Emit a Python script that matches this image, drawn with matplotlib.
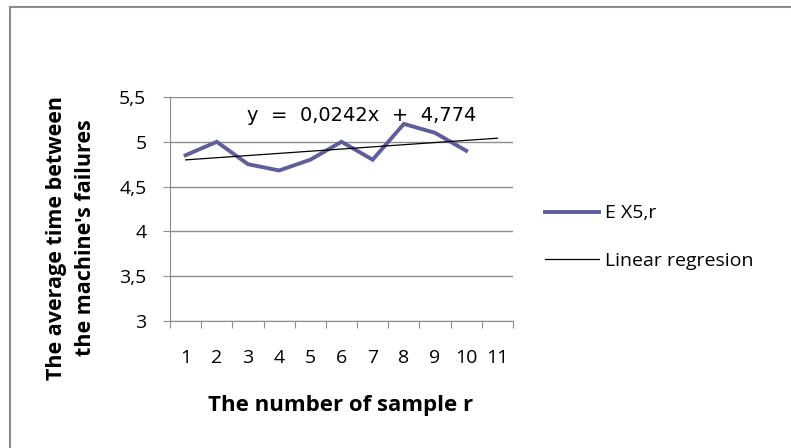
import matplotlib
matplotlib.use("Agg")
import matplotlib.pyplot as plt
from matplotlib.lines import Line2D
from matplotlib.ticker import FixedLocator, FuncFormatter
import numpy as np

# Sample numbers and average time between failures per sample
samples = [1, 2, 3, 4, 5, 6, 7, 8, 9, 10]
avg_time = [4.85, 5.0, 4.75, 4.68, 4.80, 5.0, 4.80, 5.20, 5.10, 4.90]
category_labels = ["1", "2", "3", "4", "5", "6", "7", "8", "9", "10", "11"]
y_ticks = [3.0, 3.5, 4.0, 4.5, 5.0, 5.5]

# Linear trend: y = slope * x + intercept, extended one period ahead
slope = 0.0242
intercept = 4.774
trend_x = [1, 11]

plt.rcParams["font.family"] = ["Open Sans", "DejaVu Sans"]

fig = plt.figure(figsize=(7.91, 4.48), dpi=100)
ax = fig.add_axes([170 / 791, 1 - 321 / 448, (513 - 170) / 791, (321 - 97) / 448])

grid_col = "#8c8c8c"
ax.set_ylim(3.0, 5.5)
ax.set_xlim(0.5, 11.5)
ax.yaxis.set_major_locator(FixedLocator(y_ticks))
ax.yaxis.set_major_formatter(FuncFormatter(lambda v, p: f"{v:g}".replace(".", ",")))
ax.grid(axis="y", color=grid_col, linewidth=1.0)
ax.set_axisbelow(True)

# Category axis: tick marks between categories, labels centred on categories
ax.xaxis.set_major_locator(FixedLocator(np.arange(0.5, 12.0, 1.0)))
ax.xaxis.set_major_formatter(FuncFormatter(lambda v, p: ""))
ax.xaxis.set_minor_locator(FixedLocator(range(1, len(category_labels) + 1)))
ax.set_xticklabels(category_labels, minor=True)
ax.tick_params(axis="x", which="major", direction="out", length=5, color=grid_col)
ax.tick_params(axis="x", which="minor", length=0, pad=20, labelsize=14)
ax.tick_params(axis="y", direction="out", length=5, color=grid_col, labelsize=14, pad=12)

for side in ["top", "right"]:
    ax.spines[side].set_visible(False)
ax.spines["left"].set_color(grid_col)
ax.spines["bottom"].set_color(grid_col)

line_data, = ax.plot(samples, avg_time, color="#5e5e9c", linewidth=2.8,
                     solid_joinstyle="miter", label="E X5,r")
tx = np.array(trend_x, dtype=float)
line_trend, = ax.plot(tx, slope * tx + intercept, color="black", linewidth=0.9,
                      label="Linear regresion")

eq = f"y  =  {slope:.4f}x  +  {intercept:.3f}".replace(".", ",")
ax.text(247 / 791, 1 - 115 / 448, eq, transform=fig.transFigure,
        fontsize=14, family="DejaVu Sans", va="center", ha="left")

fig.legend(handles=[line_data, line_trend], loc="center left",
           bbox_to_anchor=(527 / 791, 1 - 237 / 448), frameon=False,
           fontsize=14, handlelength=2.8, handletextpad=0.3, labelspacing=1.5)

fig.text(341 / 791, 1 - 405 / 448, "The number of sample r", fontsize=16,
         fontweight="bold", ha="center", va="center")
fig.text(71 / 791, 1 - 238 / 448, "The average time between\nthe machine's failures",
         fontsize=15.5, fontweight="bold", ha="center", va="center", rotation=90,
         linespacing=1.5)

# Chart frame edges along the top and left
fig.add_artist(Line2D([10 / 791, 10 / 791], [0, 1 - 7.5 / 448], transform=fig.transFigure,
                      color="#8a8a8a", linewidth=1.5))
fig.add_artist(Line2D([10 / 791, 1], [1 - 7.5 / 448, 1 - 7.5 / 448], transform=fig.transFigure,
                      color="#8a8a8a", linewidth=1.5))

fig.savefig("out.png", dpi=100)
